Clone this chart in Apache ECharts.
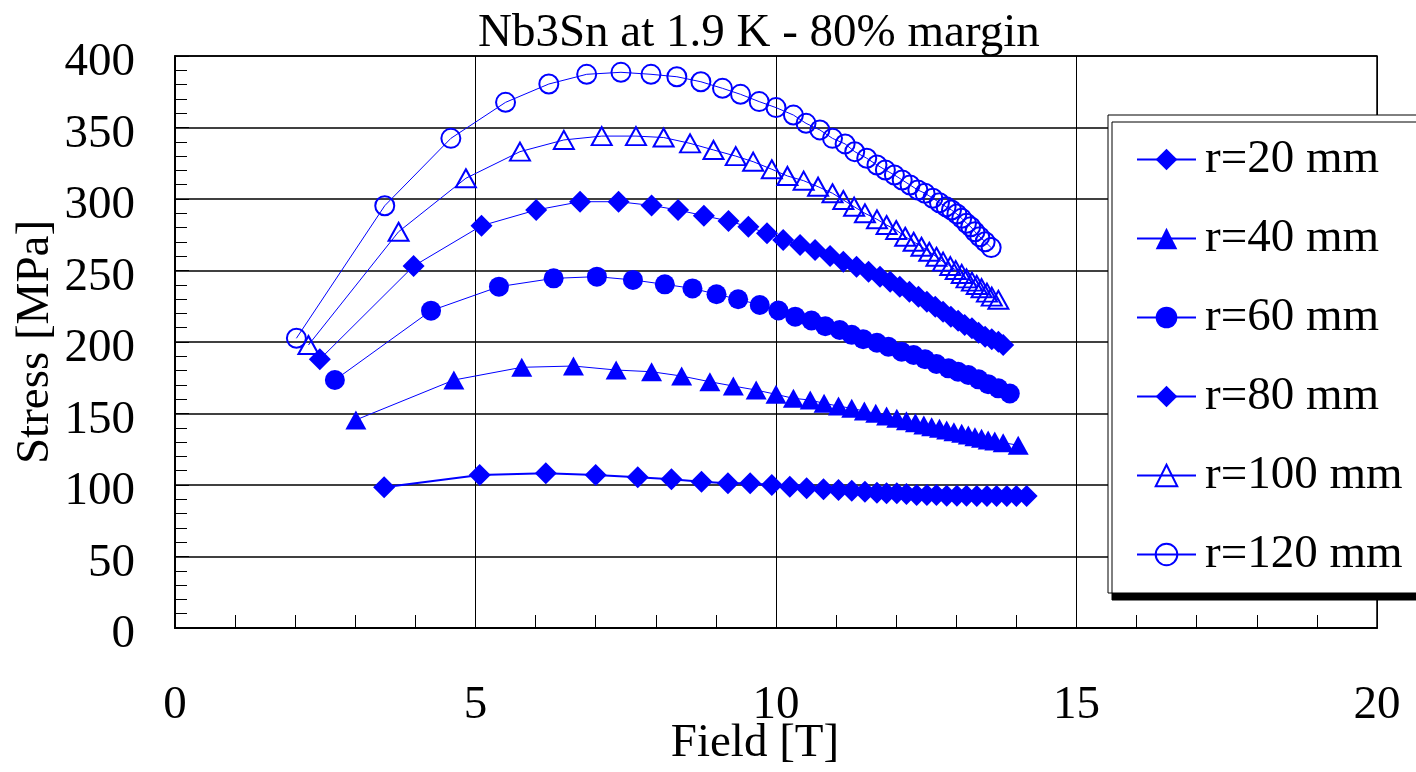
<!DOCTYPE html>
<html>
<head>
<meta charset="utf-8">
<title>Nb3Sn at 1.9 K - 80% margin</title>
<script src="https://cdn.jsdelivr.net/npm/echarts@6/dist/echarts.min.js"></script>
<style>
  html, body { margin: 0; padding: 0; background: #ffffff; }
  #chart { width: 1416px; height: 772px; }
</style>
</head>
<body>
<div id="chart"></div>
<script>
// Stress vs field for several bore radii (Nb3Sn, 1.9 K, 80% margin)
const radiusLabels = ['r=20 mm', 'r=40 mm', 'r=60 mm', 'r=80 mm', 'r=100 mm', 'r=120 mm'];

const field20 = [3.48, 5.07, 6.17, 7.00, 7.70, 8.26, 8.76, 9.20, 9.57, 9.93, 10.23, 10.51, 10.79, 11.04, 11.26, 11.48, 11.68, 11.84, 12.01, 12.17, 12.34, 12.51, 12.67, 12.84, 13.01, 13.17, 13.34, 13.51, 13.67, 13.84, 14.00, 14.17];
const stress20 = [98.4, 107.0, 108.2, 107.0, 105.4, 104.0, 102.3, 101.2, 101.2, 100.0, 98.8, 97.7, 97.0, 96.5, 96.0, 95.3, 94.6, 94.2, 94.2, 93.7, 93.0, 93.0, 93.0, 92.5, 92.5, 92.5, 92.3, 92.3, 92.3, 92.3, 92.3, 92.3];

const field40 = [3.01, 4.64, 5.77, 6.63, 7.34, 7.93, 8.43, 8.90, 9.29, 9.67, 10.00, 10.29, 10.57, 10.80, 11.04, 11.26, 11.47, 11.66, 11.84, 12.01, 12.17, 12.32, 12.46, 12.59, 12.72, 12.84, 12.96, 13.09, 13.20, 13.31, 13.42, 13.53, 13.64, 13.78, 14.03];
const stress40 = [145.5, 173.4, 182.3, 183.2, 180.4, 179.2, 176.2, 172.2, 169.2, 166.4, 163.4, 160.6, 159.4, 157.1, 155.2, 153.6, 151.7, 150.1, 148.3, 146.6, 145.0, 143.6, 142.0, 140.8, 139.7, 138.5, 137.3, 136.2, 135.0, 133.8, 132.7, 131.5, 130.8, 129.6, 127.8];

const field60 = [2.66, 4.26, 5.39, 6.30, 7.02, 7.62, 8.15, 8.61, 9.01, 9.37, 9.73, 10.04, 10.32, 10.59, 10.82, 11.06, 11.26, 11.45, 11.68, 11.87, 12.09, 12.29, 12.48, 12.67, 12.87, 13.03, 13.20, 13.37, 13.53, 13.70, 13.89];
const stress60 = [173.4, 221.9, 238.7, 244.5, 245.7, 243.4, 240.3, 237.5, 233.4, 229.9, 225.9, 222.0, 217.7, 215.0, 211.0, 208.4, 205.0, 202.0, 199.5, 196.7, 193.2, 190.9, 187.9, 184.6, 181.6, 179.2, 176.9, 173.9, 170.5, 167.6, 164.0];

const field80 = [2.41, 3.97, 5.10, 6.01, 6.74, 7.38, 7.93, 8.37, 8.80, 9.21, 9.54, 9.85, 10.12, 10.40, 10.65, 10.90, 11.12, 11.34, 11.54, 11.73, 11.90, 12.06, 12.22, 12.37, 12.51, 12.65, 12.78, 12.91, 13.03, 13.14, 13.26, 13.37, 13.48, 13.59, 13.70, 13.78];
const stress80 = [187.9, 253.1, 281.3, 292.3, 298.1, 298.1, 295.5, 292.3, 288.3, 284.6, 280.6, 276.0, 271.3, 267.8, 264.3, 260.1, 256.2, 252.7, 249.2, 245.7, 242.2, 238.7, 235.2, 231.7, 228.2, 224.7, 221.2, 217.7, 214.9, 211.9, 209.6, 206.5, 203.7, 201.9, 200.2, 197.9];

const field100 = [2.22, 3.72, 4.84, 5.74, 6.47, 7.10, 7.67, 8.13, 8.57, 8.96, 9.33, 9.62, 9.93, 10.19, 10.46, 10.70, 10.94, 11.12, 11.30, 11.48, 11.68, 11.84, 12.00, 12.15, 12.29, 12.42, 12.55, 12.67, 12.78, 12.90, 12.99, 13.09, 13.17, 13.26, 13.34, 13.42, 13.51, 13.59, 13.70];
const stress100 = [197.9, 277.1, 314.5, 333.1, 341.3, 344.0, 344.0, 343.0, 338.9, 334.3, 330.0, 326.1, 320.8, 316.1, 312.8, 308.6, 304.0, 299.3, 294.6, 290.0, 285.8, 281.8, 278.3, 273.6, 270.1, 266.6, 263.1, 259.6, 256.2, 253.1, 250.3, 247.6, 244.5, 242.2, 239.9, 237.6, 234.5, 231.7, 229.5];

const field120 = [2.02, 3.49, 4.59, 5.50, 6.22, 6.85, 7.42, 7.92, 8.35, 8.75, 9.11, 9.41, 9.72, 10.00, 10.29, 10.50, 10.73, 10.94, 11.15, 11.31, 11.51, 11.68, 11.82, 11.97, 12.10, 12.23, 12.36, 12.48, 12.61, 12.72, 12.83, 12.92, 13.01, 13.09, 13.17, 13.24, 13.31, 13.39, 13.48, 13.58];
const stress120 = [202.6, 295.3, 342.4, 367.6, 380.4, 387.2, 388.6, 387.2, 385.5, 382.0, 377.4, 373.2, 368.1, 363.9, 358.7, 352.9, 348.3, 342.4, 338.5, 333.1, 328.5, 323.8, 320.3, 316.8, 313.3, 309.8, 306.3, 304.0, 300.5, 297.4, 294.6, 292.3, 289.5, 286.5, 283.0, 280.6, 277.1, 273.6, 270.1, 266.0];

const xTicks = [0, 5, 10, 15, 20];
const yTicks = [0, 50, 100, 150, 200, 250, 300, 350, 400];

const BLUE = '#0000ff';
const FONT = '"Liberation Serif", "Times New Roman", serif';
const FONT_SIZE = 47;

function pairs(xs, ys) {
  return xs.map((x, i) => [x, ys[i]]);
}

function makeSeries(name, xs, ys, symbol, size, filled, lineWidth) {
  return {
    name: name,
    type: 'line',
    data: pairs(xs, ys),
    symbol: symbol,
    symbolSize: size,
    showAllSymbol: true,
    smooth: false,
    lineStyle: { color: BLUE, width: lineWidth },
    itemStyle: filled
      ? { color: BLUE, borderWidth: 0 }
      : { color: 'rgba(255,255,255,0)', borderColor: BLUE, borderWidth: 2 },
    emphasis: { disabled: true },
    z: 3
  };
}

const series = [
  makeSeries(radiusLabels[0], field20, stress20, 'diamond', 22, true, 2),
  makeSeries(radiusLabels[1], field40, stress40, 'triangle', [21, 19], true, 1),
  makeSeries(radiusLabels[2], field60, stress60, 'circle', 20, true, 1),
  makeSeries(radiusLabels[3], field80, stress80, 'diamond', 22, true, 1),
  makeSeries(radiusLabels[4], field100, stress100, 'triangle', [20, 18], false, 1),
  makeSeries(radiusLabels[5], field120, stress120, 'circle', 19, false, 1)
];

const chart = echarts.init(document.getElementById('chart'), null, { renderer: 'canvas' });

chart.setOption({
  animation: false,
  backgroundColor: '#ffffff',
  title: {
    text: 'Nb3Sn at 1.9 K - 80% margin',
    left: 478,
    top: 10,
    padding: 0,
    textStyle: { fontFamily: FONT, fontSize: FONT_SIZE, fontWeight: 'normal', color: '#000' }
  },
  grid: {
    left: 175, right: 39, top: 56, bottom: 144,
    outerBoundsMode: 'none',
    containLabel: false,
    show: true, borderColor: '#000', borderWidth: 1.5, backgroundColor: 'transparent'
  },
  legend: {
    orient: 'vertical',
    left: 1108,
    top: 115,
    data: radiusLabels,
    selectedMode: false,
    itemWidth: 59,
    itemHeight: 27,
    itemGap: 32,
    padding: [21, 40, 15, 28],
    backgroundColor: '#ffffff',
    borderColor: '#000',
    borderWidth: 1,
    borderRadius: 0,
    shadowColor: '#000',
    shadowBlur: 0,
    shadowOffsetX: 4,
    shadowOffsetY: 7,
    textStyle: { fontFamily: FONT, fontSize: FONT_SIZE, lineHeight: 47, color: '#000', padding: [0, 0, 0, 4] },
    z: 10
  },
  xAxis: {
    type: 'value',
    min: xTicks[0],
    max: xTicks[xTicks.length - 1],
    interval: 5,
    name: 'Field [T]',
    nameLocation: 'middle',
    nameGap: 92,
    nameMoveOverlap: false,
    nameTextStyle: { fontFamily: FONT, fontSize: FONT_SIZE, color: '#000', padding: [0, 42, 0, 0] },
    axisLine: { show: true, onZero: false, lineStyle: { color: '#000', width: 2 } },
    axisTick: { show: true, inside: true, length: 14, lineStyle: { color: '#000', width: 1 } },
    minorTick: { show: true, splitNumber: 5, length: 13, lineStyle: { color: '#000', width: 1 } },
    splitLine: { show: true, lineStyle: { color: '#000', width: 1 } },
    axisLabel: {
      fontFamily: FONT, fontSize: FONT_SIZE, color: '#000', margin: 54,
      formatter: v => (xTicks.indexOf(v) >= 0 ? String(v) : '')
    }
  },
  yAxis: {
    type: 'value',
    min: yTicks[0],
    max: yTicks[yTicks.length - 1],
    interval: 50,
    name: 'Stress [MPa]',
    nameLocation: 'middle',
    nameGap: 116,
    nameMoveOverlap: false,
    nameRotate: 90,
    nameTextStyle: { fontFamily: FONT, fontSize: FONT_SIZE, color: '#000' },
    axisLine: { show: true, onZero: false, lineStyle: { color: '#000', width: 2 } },
    axisTick: { show: true, inside: true, length: 14, lineStyle: { color: '#000', width: 1 } },
    minorTick: { show: true, splitNumber: 5, length: 12, lineStyle: { color: '#000', width: 1 } },
    splitLine: { show: true, lineStyle: { color: '#000', width: 1.5 } },
    axisLabel: {
      color: '#000', margin: 40,
      formatter: v => (yTicks.indexOf(v) >= 0 ? '{v|' + v + '}' : ''),
      rich: {
        v: { fontFamily: FONT, fontSize: FONT_SIZE, color: '#000', padding: [14, 0, 0, 0] }
      }
    }
  },
  series: series
});
</script>
</body>
</html>
